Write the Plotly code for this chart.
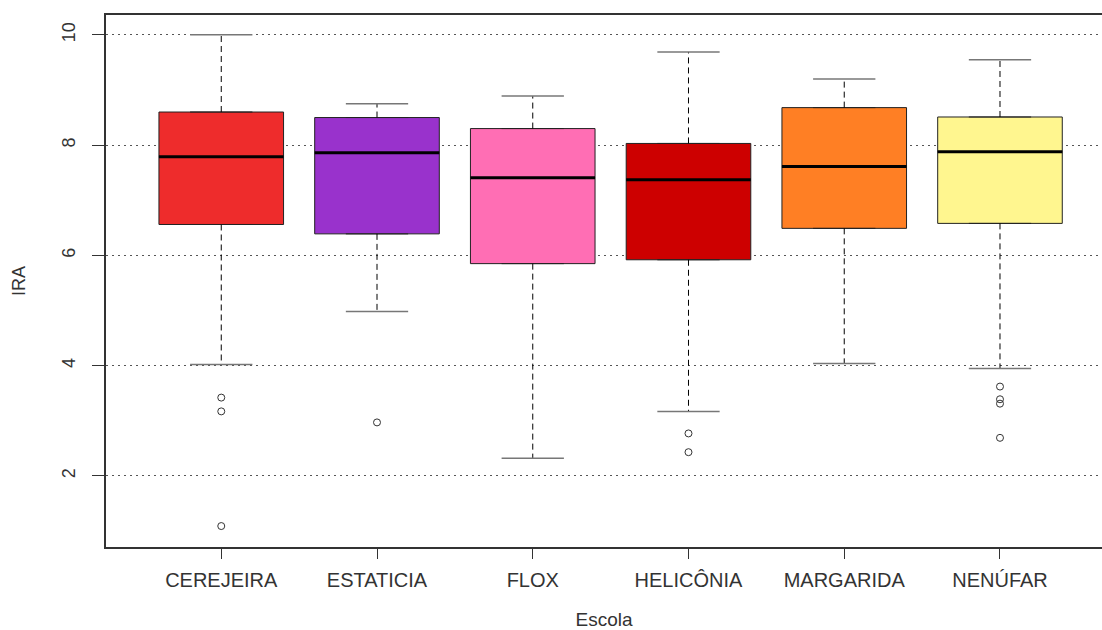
import plotly.graph_objects as go

schools = ["CEREJEIRA", "ESTATICIA", "FLOX", "HELICÔNIA", "MARGARIDA", "NENÚFAR"]
positions = [1, 2, 3, 4, 5, 6]
lower_whisker = [4.02, 4.98, 2.32, 3.17, 4.04, 3.95]
q1 = [6.56, 6.39, 5.85, 5.92, 6.49, 6.58]
median = [7.79, 7.86, 7.41, 7.37, 7.61, 7.88]
q3 = [8.60, 8.50, 8.30, 8.03, 8.68, 8.51]
upper_whisker = [10.0, 8.75, 8.89, 9.69, 9.20, 9.55]
outliers = {
    "CEREJEIRA": [3.42, 3.17, 1.09],
    "ESTATICIA": [2.97],
    "FLOX": [],
    "HELICÔNIA": [2.77, 2.43],
    "MARGARIDA": [],
    "NENÚFAR": [3.62, 3.39, 3.31, 2.69],
}
colors = ["#EE2C2C", "#9932CC", "#FF6EB4", "#CD0000", "#FF7F24", "#FFF68F"]

BOX_W = 0.8
CAP_W = 0.4

fig = go.Figure()

for i, s in enumerate(schools):
    x = positions[i]
    # dashed whiskers
    fig.add_trace(go.Scatter(
        x=[x, x, None, x, x],
        y=[q3[i], upper_whisker[i], None, q1[i], lower_whisker[i]],
        mode="lines", line=dict(color="black", width=1, dash="6px,4px"),
        hoverinfo="skip", showlegend=False))
    # caps
    fig.add_trace(go.Scatter(
        x=[x - CAP_W / 2, x + CAP_W / 2, None, x - CAP_W / 2, x + CAP_W / 2],
        y=[upper_whisker[i], upper_whisker[i], None, lower_whisker[i], lower_whisker[i]],
        mode="lines", line=dict(color="#777777", width=1.5),
        hoverinfo="skip", showlegend=False))
    # box
    fig.add_trace(go.Box(
        x=[x], q1=[q1[i]], median=[median[i]], q3=[q3[i]],
        lowerfence=[q1[i]], upperfence=[q3[i]],
        width=BOX_W, fillcolor=colors[i],
        line=dict(color="#222222", width=1),
        boxpoints=False, name=s, showlegend=False))
    # median
    fig.add_trace(go.Scatter(
        x=[x - BOX_W / 2, x + BOX_W / 2], y=[median[i], median[i]],
        mode="lines", line=dict(color="black", width=3),
        hoverinfo="skip", showlegend=False))
    # outliers
    if outliers[s]:
        fig.add_trace(go.Scatter(
            x=[x] * len(outliers[s]), y=outliers[s], mode="markers",
            marker=dict(symbol="circle-open", size=7, color="#333333",
                        line=dict(width=1)),
            hoverinfo="skip", showlegend=False))

font_family = "Liberation Sans, Arial, sans-serif"

fig.update_layout(
    width=1102, height=630,
    margin=dict(l=106, r=0, t=15, b=83),
    paper_bgcolor="white", plot_bgcolor="white",
    boxmode="overlay",
    font=dict(family=font_family, size=18, color="#333333"),
    xaxis=dict(
        range=[0.26, 6.655], tickmode="array", tickvals=positions, ticktext=schools,
        showgrid=False, zeroline=False, automargin=False,
        showline=True, linecolor="#333333", linewidth=1.5, mirror=True,
        ticks="outside", ticklen=10, tickcolor="#333333",
        tickfont=dict(size=20), ticklabelstandoff=4,
        title=dict(text="Escola", font=dict(size=19), standoff=25),
    ),
    yaxis=dict(
        range=[0.71, 10.36], tickvals=[2, 4, 6, 8, 10],
        showgrid=True, gridcolor="#555555", gridwidth=1, griddash="2px,4px",
        zeroline=False, layer="above traces", automargin=False,
        showline=True, linecolor="#333333", linewidth=1.5, mirror=False,
        ticks="outside", ticklen=12, tickcolor="#333333",
        tickangle=-90, tickfont=dict(size=18), ticklabelstandoff=10,
        title=dict(text="IRA", font=dict(size=18), standoff=29),
    ),
)

fig.write_html(
    "out.html",
    config={"displayModeBar": False},
    post_script="document.body.style.margin='0';document.body.style.overflow='hidden';",
)
